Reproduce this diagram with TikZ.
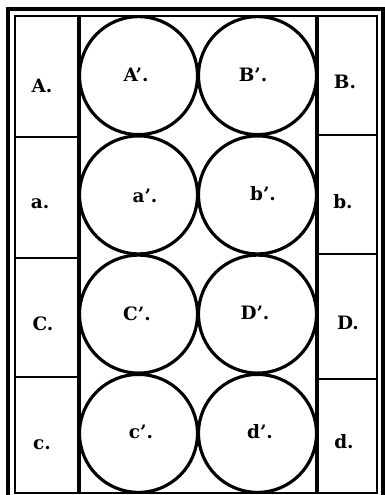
\documentclass[tikz,border=0pt]{standalone}
\usepackage{fontspec}
\setmainfont{DejaVu Serif}

\begin{document}
\begin{tikzpicture}[x=0.02cm,y=-0.02cm,
  thinline/.style={line width=1.1pt},
  heavyline/.style={line width=1.8pt},
  ring/.style={circle,draw,line width=1.8pt,minimum size=2.36cm,inner sep=0pt},
  tag/.style={font=\bfseries\fontsize{10.5}{12}\selectfont,inner sep=0pt}]
\useasboundingbox (0,0) rectangle (385,495);
% Double frame
\draw[heavyline] (8,497) -- (8,9) -- (383,9) -- (383,497);
\draw[thinline] (15,16) rectangle (377,493);
% Side columns
\draw[heavyline] (79,16) -- (79,493);
\draw[heavyline] (317,16) -- (317,493);
\foreach \y in {137,258,377} \draw[thinline] (15,\y) -- (79,\y);
\foreach \y in {135,254,379} \draw[thinline] (317,\y) -- (377,\y);
% Circles
\foreach \n/\x/\y in {cA/138.5/75.6, cB/257.5/75.6, ca/138.5/194.9, cb/257.5/194.9,
                      cC/138.5/314.1, cD/257.5/314.1, cc/138.5/433.4, cd/257.5/433.4}
  \node[ring] (\n) at (\x,\y) {};
% Left labels
\node[tag] (A) at (42,86) {A.};
\node[tag] (a) at (40,204) {a.};
\node[tag] (C) at (43,324) {C.};
\node[tag] (c) at (42,445) {c.};
% Right labels
\node[tag] (B) at (345,82) {B.};
\node[tag] (b) at (343,202) {b.};
\node[tag] (D) at (348,323) {D.};
\node[tag] (d) at (344,442) {d.};
% Circle labels
\node[tag] (Ap) at (136,75) {A’.};
\node[tag] (Bp) at (253,75) {B’.};
\node[tag] (ap) at (145,196) {a’.};
\node[tag] (bp) at (263,194) {b’.};
\node[tag] (Cp) at (137,314) {C’.};
\node[tag] (Dp) at (255,313) {D’.};
\node[tag] (cp) at (141,432) {c’.};
\node[tag] (dp) at (260,432) {d’.};
\end{tikzpicture}
\end{document}
